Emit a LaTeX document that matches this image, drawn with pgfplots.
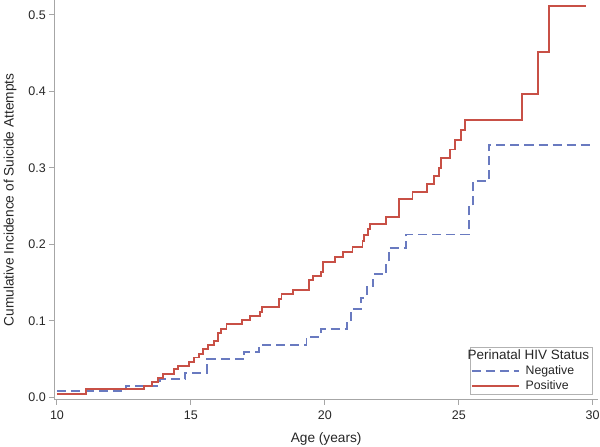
\documentclass[border=0pt]{standalone}
\usepackage{pgfplots}
\pgfplotsset{compat=1.18}
\usepackage{fontspec}
\setmainfont{Liberation Sans}
\definecolor{plotred}{RGB}{200,80,70}
\definecolor{plotblue}{RGB}{105,122,192}
\pgfplotstableread{
x y
10.00 0.0047
11.07 0.0105
13.25 0.0148
13.56 0.0200
13.78 0.0250
13.97 0.0305
14.36 0.0366
14.53 0.0413
14.94 0.0465
15.13 0.0520
15.30 0.0570
15.45 0.0630
15.65 0.0680
15.85 0.0736
16.02 0.0837
16.12 0.0897
16.33 0.0958
16.92 0.1006
17.21 0.1060
17.58 0.1120
17.65 0.1180
18.30 0.1290
18.38 0.1350
18.80 0.1407
19.42 0.1530
19.57 0.1586
19.85 0.1640
19.92 0.1765
20.37 0.1830
20.68 0.1895
21.03 0.1965
21.41 0.2043
21.46 0.2118
21.60 0.2196
21.70 0.2270
22.27 0.2353
22.76 0.2596
23.27 0.2688
23.80 0.2790
24.07 0.2897
24.26 0.3000
24.33 0.3124
24.66 0.3240
24.86 0.3363
25.07 0.3490
25.22 0.3625
27.36 0.3960
27.96 0.4510
28.38 0.5120
29.74 0.5120
}\positive
\pgfplotstableread{
x y
10.00 0.0078
12.58 0.0152
13.85 0.0235
14.78 0.0320
15.60 0.0497
16.99 0.0596
17.55 0.0688
19.32 0.0792
19.85 0.0893
20.82 0.0990
20.97 0.1150
21.34 0.1300
21.57 0.1455
21.81 0.1610
22.29 0.1770
22.40 0.1948
23.03 0.2130
25.38 0.2490
25.53 0.2827
26.12 0.3300
30.00 0.3300
}\negative
\begin{document}
\begin{tikzpicture}
\path[use as bounding box] (0,0) rectangle (600pt,447pt);
\begin{axis}[
  at={(54.3pt,47.4pt)}, anchor=south west,
  x=26.785pt, y=765pt,
  xmin=9.9, xmax=30.2, ymin=-0.003, ymax=0.519,
  axis x line*=bottom, axis y line*=left,
  axis line style={-, draw=gray!70, line width=1pt},
  tick align=outside, major tick length=5pt,
  tick style={draw=gray!70, line width=1pt},
  xtick={10,15,20,25,30},
  ytick={0,0.1,0.2,0.3,0.4,0.5},
  minor tick num=0,
  /pgf/number format/assume math mode=true,
  yticklabel style={/pgf/number format/fixed, /pgf/number format/fixed zerofill, /pgf/number format/precision=1},
  xticklabel style={yshift=-3pt},
  tick label style={font=\fontsize{12.5}{14}\selectfont, text=black!85},
  label style={font=\fontsize{13.7}{15}\selectfont, text=black!85},
  xlabel={Age (years)},
  ylabel={Cumulative Incidence of Suicide Attempts},
  xlabel style={yshift=-6pt},
  ylabel style={yshift=5pt},
  legend style={at={(axis cs:29.99,0.004)}, anchor=south east,
    draw=gray!60, font=\fontsize{12.3}{14}\selectfont, inner sep=1pt,
    row sep=0.5pt, text=black!85,
    /tikz/every odd column/.append style={column sep=4pt}},
  legend cell align=left,
  legend image code/.code={\draw[#1, line width=1.7pt] (0pt,0pt) -- (47pt,0pt);},
]
\addlegendimage{empty legend}
\addlegendentry{\hspace*{-58pt}\fontsize{13.5}{15}\selectfont Perinatal HIV Status}
\addplot[const plot, draw=plotblue, line width=1.7pt, dash pattern=on 9pt off 5pt] table[x=x,y=y] {\negative};
\addlegendentry{Negative}
\addplot[const plot, draw=plotred, line width=1.8pt] table[x=x,y=y] {\positive};
\addlegendentry{Positive}
\end{axis}
\end{tikzpicture}
\end{document}
